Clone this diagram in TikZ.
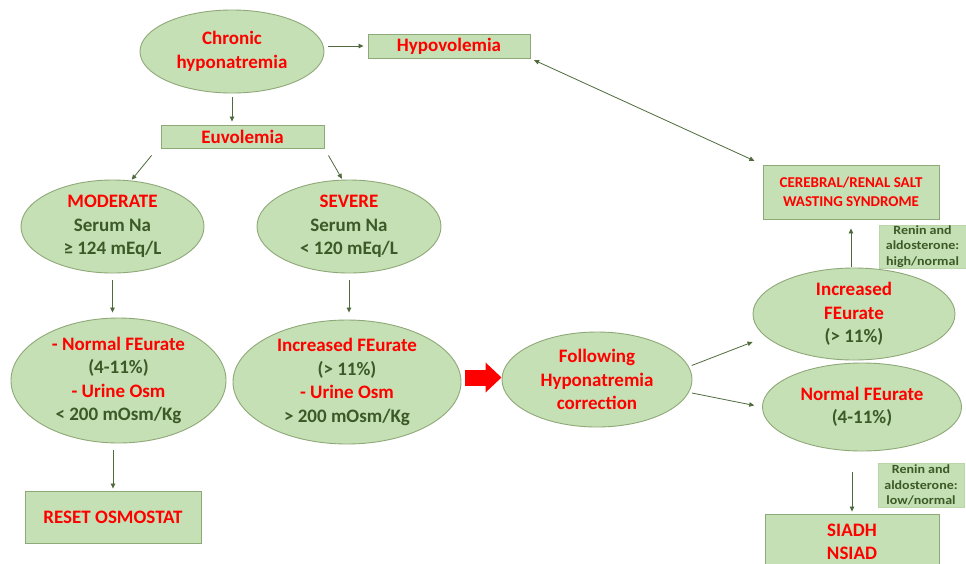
\documentclass[tikz,border=0pt]{standalone}
\usepackage{fontspec}
\setmainfont{Carlito}
\newfontfamily\renfont[FakeStretch=1.12]{Carlito}
\usetikzlibrary{shapes.geometric,arrows.meta}
\definecolor{fillg}{HTML}{C5E0B4}
\definecolor{bord}{HTML}{8FA878}
\definecolor{tred}{HTML}{FF0000}
\definecolor{tdark}{HTML}{3B5A27}
\definecolor{arrc}{HTML}{4F6A3C}
\newcommand\bigf{\fontsize{19}{23.5}\selectfont}
\newcommand\midf{\fontsize{15}{19.5}\selectfont}
\newcommand\smf{\renfont\bfseries\fontsize{12.5}{15.5}\selectfont}
\newcommand\rd[1]{\textcolor{tred}{#1}}
\begin{document}
\begin{tikzpicture}[x=1pt,y=-1pt,
  ell/.style={ellipse, draw=bord, fill=fillg, line width=0.9pt, inner sep=-30pt, align=center, font=\bigf\bfseries, text=tdark},
  gbox/.style={rectangle, draw=bord, fill=fillg, line width=0.9pt, inner sep=0pt, align=center, font=\bigf\bfseries, text=tred},
  rbox/.style={rectangle, draw=fillg!80!bord, fill=fillg, line width=0.6pt, inner sep=0pt, align=center, font=\smf, text=tdark},
  arr/.style={draw=arrc, line width=0.8pt, -{Triangle[length=5pt,width=4.5pt]}},
  darr/.style={draw=arrc, line width=0.8pt, {Triangle[length=5pt,width=4.5pt]}-{Triangle[length=5pt,width=4.5pt]}},
  bigarr/.style={draw=tred, line width=16pt, -{Triangle[length=16pt,width=29pt]}}]
\useasboundingbox[fill=white] (0,0) rectangle (966,563);

\node[ell, text=tred, minimum width=184pt, minimum height=83pt] (chr) at (232,51.5) {Chronic\\hyponatremia};
\node[gbox, minimum width=162pt, minimum height=24pt] (hypo) at (449,46) {Hypovolemia};
\node[gbox, minimum width=163pt, minimum height=23pt] (euv) at (242.5,136.5) {Euvolemia};
\node[ell, minimum width=183pt, minimum height=93pt] (mod) at (112.5,226.5) {\rd{MODERATE}\\Serum Na\\≥ 124 mEq/L};
\node[ell, minimum width=184pt, minimum height=93pt] (sev) at (349,226.5) {\rd{SEVERE}\\Serum Na\\< 120 mEq/L};
\node[ell, minimum width=215pt, minimum height=125pt] (nfe) at (118.5,380.5) {\rd{- Normal FEurate}\\(4-11\%)\\\rd{- Urine Osm}\\< 200 mOsm/Kg};
\node[ell, minimum width=228pt, minimum height=124pt] (ife) at (347,382) {\rd{Increased FEurate}\\(> 11\%)\\\rd{- Urine Osm}\\> 200 mOsm/Kg};
\node[ell, text=tred, minimum width=190pt, minimum height=95pt] (fol) at (597,379.5) {Following\\Hyponatremia\\correction};
\node[gbox, minimum width=176pt, minimum height=52pt] (reset) at (113,517) {RESET OSMOSTAT};
\node[ell, minimum width=202pt, minimum height=92pt] (rife) at (854,314) {\rd{Increased}\\\rd{FEurate}\\(> 11\%)};
\node[ell, minimum width=199pt, minimum height=88pt] (rnfe) at (862,407) {\rd{Normal FEurate}\\(4-11\%)};
\node[gbox, font=\midf\bfseries, minimum width=176pt, minimum height=54pt] (csw) at (851,192) {CEREBRAL/RENAL SALT\\WASTING SYNDROME};
\node[rbox, minimum width=87pt, minimum height=43pt] (ren1) at (922.5,246.5) {Renin and\\aldosterone:\\high/normal};
\node[rbox, minimum width=86pt, minimum height=44pt] (ren2) at (921,485) {Renin and\\aldosterone:\\low/normal};
\node[gbox, minimum width=174pt, minimum height=56pt] (siadh) at (852,542) {SIADH\\NSIAD};

\draw[arr, shorten <=4pt, shorten >=4pt] (chr.east |- hypo.west) -- (hypo.west);
\draw[arr, shorten <=4pt, shorten >=3pt] (chr.south) -- (chr.south |- euv.north);
\draw[arr, shorten >=1pt] ([xshift=-9pt,yshift=-7pt]euv.south west) -- (mod.68);
\draw[arr, shorten >=1pt] ([xshift=4pt,yshift=-7pt]euv.south east) -- (sev.98);
\draw[arr, shorten <=7pt, shorten >=5pt] (mod.south) -- (mod.south |- nfe.north);
\draw[arr, shorten <=7pt, shorten >=7pt] (sev.south) -- (sev.south |- ife.north);
\draw[arr, shorten <=7pt, shorten >=2pt] (reset.north |- nfe.south) -- (reset.north);
\draw[bigarr, shorten <=4pt] ([yshift=2pt]ife.east |- fol.west) -- ([yshift=2pt]fol.west);
\draw[arr, shorten <=3pt] (fol.8) -- ([yshift=-28pt]rife.west);
\draw[arr, shorten <=3pt, shorten >=8pt] (fol.-8) -- (rnfe.west);
\draw[arr, shorten <=1pt, shorten >=9pt] (csw.south |- rife.north) -- (csw.south);
\draw[arr, shorten <=21pt, shorten >=2pt] (siadh.north |- rnfe.south) -- (siadh.north);
\draw[darr, shorten <=4pt, shorten >=9pt] (hypo.south east) -- (csw.north west);
\end{tikzpicture}
\end{document}
